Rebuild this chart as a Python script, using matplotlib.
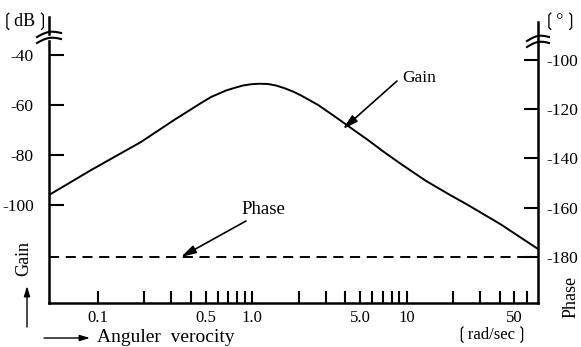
import numpy as np
import matplotlib
matplotlib.use("Agg")
import matplotlib.pyplot as plt
from matplotlib.ticker import FixedLocator, FixedFormatter, NullLocator

plt.rcParams['font.family'] = ['Liberation Serif', 'DejaVu Sans', 'Noto Sans CJK JP']

# ---- data ----
freq = [0.0485, 0.091, 0.191, 0.313, 0.468, 0.543, 0.602, 0.679, 0.765,
        0.874, 0.985, 1.11, 1.27, 1.43, 1.61, 1.84, 2.08, 2.68, 3.40,
        4.37, 5.63, 7.15, 9.21, 13.4, 19.4, 25.0, 40.9, 71.0]
gain_db = [-96.0, -86.0, -74.8, -66.0, -59.2, -56.8, -55.6, -54.2, -53.2,
           -52.2, -51.7, -51.5, -51.6, -52.2, -53.2, -54.6, -56.2, -60.0, -64.4,
           -69.2, -74.0, -78.8, -83.6, -90.4, -96.2, -100.0, -107.8, -117.6]
phase_freq = [0.0485, 71]
phase_deg = [-180, -180]

x_ticks = [0.1, 0.2, 0.3, 0.4, 0.5, 0.6, 0.7, 0.8, 0.9,
           1, 2, 3, 4, 5, 6, 7, 8, 9, 10, 20, 30, 40, 50, 60]
x_labels = {0.1: "0.1", 0.5: "0.5", 1: "1.0", 5: "5.0", 10: "10", 50: "50"}
gain_ticks = [-40, -60, -80, -100]
phase_ticks = [-100, -120, -140, -160, -180]

W, H = 581, 347
fig = plt.figure(figsize=(W / 100, H / 100), dpi=100)

def fx(px):
    return px / W

def fy(py):
    return 1 - py / H

L, R, B, T = 49, 538, 303, 17
ax = fig.add_axes([fx(L), fy(B), (R - L) / W, (B - T) / H])
ax.set_xscale('log')
ax.set_xlim(0.0485, 71)
ax.set_ylim(-139.2, -24.8)

ax2 = ax.twinx()
ax2.set_ylim(-198.68, -82.54)

lw_sp = 1.8
for a in (ax, ax2):
    a.spines['top'].set_visible(False)
    for s in a.spines.values():
        s.set_linewidth(lw_sp)
ax.spines['right'].set_visible(False)
ax2.spines['left'].set_visible(False)
ax2.spines['bottom'].set_visible(False)
ax2.spines['right'].set_bounds(-198.68, -84.6)

ax.plot(freq, gain_db, color='black', lw=1.4, solid_joinstyle='round')
ax2.plot(phase_freq, phase_deg, color='black', lw=1.4, dashes=(5.2, 3.4))

# x ticks
ax.xaxis.set_major_locator(FixedLocator(x_ticks))
ax.xaxis.set_major_formatter(FixedFormatter([x_labels.get(t, "") for t in x_ticks]))
ax.xaxis.set_minor_locator(NullLocator())
ax.tick_params(axis='x', direction='in', length=9, width=1.5, pad=5, labelsize=12)

ax.set_yticks(gain_ticks)
ax.set_yticklabels([str(v) for v in gain_ticks])
ax.tick_params(axis='y', direction='in', length=11, width=1.5, pad=11, labelsize=12.5)
ax.yaxis.set_minor_locator(NullLocator())

ax2.set_yticks(phase_ticks)
ax2.set_yticklabels([str(v) for v in phase_ticks])
ax2.tick_params(axis='y', direction='in', length=10, width=1.5, pad=6, labelsize=12.5)
ax2.yaxis.set_minor_locator(NullLocator())

# axis breaks
def axfrac(px, py):
    return (px - L) / (R - L), (B - py) / (B - T)

def draw_break(cx, y1, y2, half):
    xs = np.linspace(cx - half, cx + half, 30)
    t = (xs - (cx - half)) / (2 * half)
    x0, yb = axfrac(cx - 4, y2 - 2)
    x1, yt = axfrac(cx + 4, y1 + 1)
    ax.fill_between([x0, x1], [yb, yb], [yt, yt], color='white', transform=ax.transAxes,
                    clip_on=False, zorder=5)
    for yy in (y1, y2):
        ys = yy - 3 * np.sin(t * np.pi) - 4 * (t - 0.5)
        pts = [axfrac(x, y) for x, y in zip(xs, ys)]
        ax.plot([p[0] for p in pts], [p[1] for p in pts], color='black', lw=1.5,
                clip_on=False, transform=ax.transAxes, zorder=6)

draw_break(49, 35, 41, 12)
draw_break(538, 39, 45, 11)

# annotations
fig.text(fx(402), fy(78), "Gain", fontsize=12.5, ha='left', va='center')
fig.text(fx(263), fy(210), "Phase", fontsize=13.5, ha='center', va='center')
arrow = dict(arrowstyle='-|>,head_length=0.9,head_width=0.25', color='black', lw=1.2,
             shrinkA=0, shrinkB=0)
ax.annotate("", xy=(3.88, -69.6), xycoords='data',
            xytext=(fx(397), fy(81)), textcoords='figure fraction', arrowprops=arrow)
ax2.annotate("", xy=(0.347, -180), xycoords='data',
             xytext=(fx(246), fy(221)), textcoords='figure fraction', arrowprops=arrow)

# unit and axis labels
fig.text(fx(25), fy(22), "\u2772dB\u2773", fontsize=13, ha='center', va='center')
fig.text(fx(560), fy(22), "\u2772\u00b0\u2773", fontsize=13, ha='center', va='center')
fig.text(fx(24), fy(258), "Gain", fontsize=13, rotation=90, ha='center', va='center')
fig.text(fx(571), fy(297), "Phase", fontsize=13, rotation=90, ha='center', va='center')
fig.text(fx(97), fy(337), "Anguler  verocity", fontsize=14, ha='left', va='center')
fig.text(fx(492), fy(335), "\u2772rad/sec\u2773", fontsize=12, ha='center', va='center')

arrow2 = dict(arrowstyle='-|>,head_length=0.5,head_width=0.15', color='black', lw=1.0,
              shrinkA=0, shrinkB=0)
fig.add_artist(matplotlib.patches.FancyArrowPatch((fx(44), fy(338)), (fx(90), fy(338)),
               transform=fig.transFigure, **arrow2, mutation_scale=12))
fig.add_artist(matplotlib.patches.FancyArrowPatch((fx(27), fy(327)), (fx(27), fy(286)),
               transform=fig.transFigure, **arrow2, mutation_scale=12))

fig.savefig("out.png", dpi=100)
